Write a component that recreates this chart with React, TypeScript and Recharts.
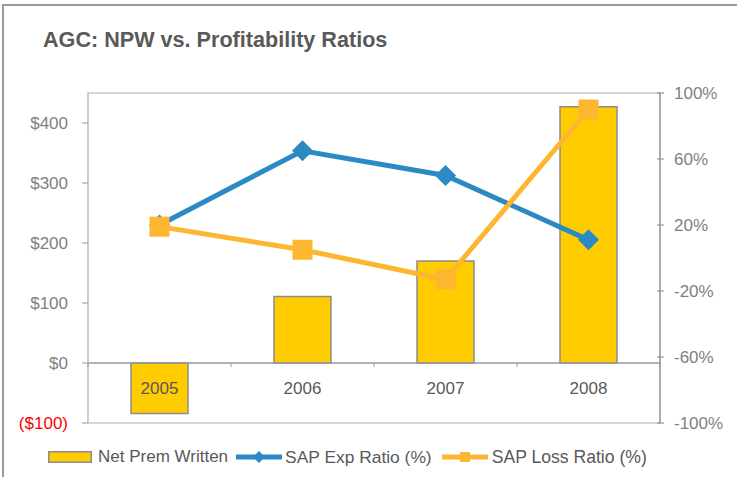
import React from 'react';
import {
  ComposedChart,
  Bar,
  Line,
  XAxis,
  YAxis,
  ReferenceLine,
  ReferenceArea,
  Legend,
} from 'recharts';

// ---- data ----
const years = ['2005', '2006', '2007', '2008'];
const netPremWritten = [-84, 111, 170, 427];
const sapExpRatio = [20, 65, 50, 11];
const sapLossRatio = [19, 5, -13, 90];
const leftTicks = [-100, 0, 100, 200, 300, 400];
const rightTicks = [-100, -60, -20, 20, 60, 100];

const data = years.map((y, i) => ({
  year: y,
  npw: netPremWritten[i],
  exp: sapExpRatio[i],
  loss: sapLossRatio[i],
}));

// ---- layout ----
const W = 737;
const H = 477;
const PLOT_LEFT = 88;
const PLOT_RIGHT = 660;
const PLOT_TOP = 93;
const PLOT_BOTTOM = 423;
const LEFT_DOMAIN: [number, number] = [-100, 450];
const RIGHT_DOMAIN: [number, number] = [-100, 100];
const ZERO_Y =
  PLOT_TOP +
  ((PLOT_BOTTOM - PLOT_TOP) * (LEFT_DOMAIN[1] - 0)) / (LEFT_DOMAIN[1] - LEFT_DOMAIN[0]);
const BAND = (PLOT_RIGHT - PLOT_LEFT) / years.length;
const YAXIS_W = 70;
const XAXIS_H = 30;

const FONT = '"Liberation Sans", Arial, sans-serif';
const BAR_FILL = '#FFCC00';
const BAR_STROKE = '#8c8c8c';
const BLUE = '#2B8AC3';
const ORANGE = '#FDB62F';
const TICK_COLOR = '#7f7f7f';
const DARK_TEXT = '#595959';

const XTick = (props: any) => {
  const { x, payload, index } = props;
  const left = x - BAND / 2;
  const right = x + BAND / 2;
  return (
    <g>
      <line x1={left} x2={left} y1={ZERO_Y} y2={ZERO_Y + 4} stroke="#999" strokeWidth={1} />
      {index === years.length - 1 && (
        <line x1={right} x2={right} y1={ZERO_Y} y2={ZERO_Y + 4} stroke="#999" strokeWidth={1} />
      )}
      <text
        x={x}
        y={ZERO_Y + 25}
        textAnchor="middle"
        dominantBaseline="central"
        fontFamily={FONT}
        fontSize={17}
        fill={DARK_TEXT}
      >
        {payload.value}
      </text>
    </g>
  );
};

const LeftTick = (props: any) => {
  const { x, y, payload } = props;
  const v = payload.value as number;
  const label = v < 0 ? `($${-v})` : `$${v}`;
  return (
    <text
      x={x}
      y={y}
      textAnchor="end"
      dominantBaseline="central"
      fontFamily={FONT}
      fontSize={17}
      fill={v < 0 ? '#FF0000' : TICK_COLOR}
    >
      {label}
    </text>
  );
};

const RightTick = (props: any) => {
  const { x, y, payload } = props;
  return (
    <g>
      <line x1={x - 17} x2={x - 10} y1={y} y2={y} stroke="#868686" strokeWidth={1} />
      <text
        x={x}
        y={y}
        textAnchor="start"
        dominantBaseline="central"
        fontFamily={FONT}
        fontSize={17}
        fill={TICK_COLOR}
      >
        {`${payload.value}%`}
      </text>
    </g>
  );
};

const DiamondDot = (props: any) => {
  const { cx, cy } = props;
  if (cx == null || cy == null) return null;
  const r = 10.5;
  return (
    <path
      d={`M${cx},${cy - r} L${cx + r},${cy} L${cx},${cy + r} L${cx - r},${cy} Z`}
      fill={BLUE}
    />
  );
};

const SquareDot = (props: any) => {
  const { cx, cy } = props;
  if (cx == null || cy == null) return null;
  const s = 20;
  return <rect x={cx - s / 2} y={cy - s / 2} width={s} height={s} fill={ORANGE} />;
};

const LegendContent = () => {
  const textStyle: React.CSSProperties = {
    fontFamily: FONT,
    fontSize: 17,
    color: DARK_TEXT,
    whiteSpace: 'nowrap',
    lineHeight: '20px',
  };
  return (
    <div style={{ display: 'flex', alignItems: 'center' }}>
      <svg width={44} height={12} style={{ display: 'block' }}>
        <rect x={0.75} y={0.75} width={42.5} height={10.5} fill={BAR_FILL} stroke={BAR_STROKE} strokeWidth={1.5} />
      </svg>
      <span style={{ ...textStyle, marginLeft: 6 }}>Net Prem Written</span>
      <svg width={46} height={14} style={{ display: 'block', marginLeft: 8 }}>
        <line x1={0} x2={46} y1={7} y2={7} stroke={BLUE} strokeWidth={5} />
        <path d="M23,1 L29,7 L23,13 L17,7 Z" fill={BLUE} />
      </svg>
      <span style={{ ...textStyle, fontSize: 17.4, marginLeft: 3 }}>SAP Exp Ratio (%)</span>
      <svg width={46} height={14} style={{ display: 'block', marginLeft: 10 }}>
        <line x1={0} x2={46} y1={7} y2={7} stroke={ORANGE} strokeWidth={5} />
        <rect x={18} y={2} width={10} height={10} fill={ORANGE} />
      </svg>
      <span style={{ ...textStyle, fontSize: 17.6, marginLeft: 4 }}>SAP Loss Ratio (%)</span>
    </div>
  );
};

export default function App() {
  return (
    <div
      style={{
        position: 'absolute',
        left: 0,
        top: 0,
        width: W,
        height: H,
        background: '#fff',
        overflow: 'hidden',
      }}
    >
      <div
        style={{
          position: 'absolute',
          left: 2,
          top: 4,
          width: W,
          height: H,
          borderTop: '2px solid #9a9a9a',
          borderLeft: '2px solid #9a9a9a',
          boxSizing: 'border-box',
        }}
      />
      <div
        style={{
          position: 'absolute',
          left: 43,
          top: 29,
          fontFamily: FONT,
          fontWeight: 'bold',
          fontSize: 21.6,
          lineHeight: '21px',
          color: DARK_TEXT,
          whiteSpace: 'nowrap',
        }}
      >
        AGC: NPW vs. Profitability Ratios
      </div>
      <div style={{ position: 'absolute', left: 0, top: 0 }}>
        <ComposedChart
          width={W}
          height={H}
          data={data}
          margin={{
            top: PLOT_TOP,
            right: W - PLOT_RIGHT - YAXIS_W,
            bottom: H - PLOT_BOTTOM - XAXIS_H,
            left: PLOT_LEFT - YAXIS_W,
          }}
        >
          <XAxis
            dataKey="year"
            height={XAXIS_H}
            axisLine={false}
            tickLine={false}
            tick={<XTick />}
            interval={0}
          />
          <YAxis
            yAxisId="left"
            orientation="left"
            width={YAXIS_W}
            domain={LEFT_DOMAIN}
            ticks={leftTicks}
            interval={0}
            axisLine={{ stroke: '#c8c8c8' }}
            tickLine={{ stroke: '#999' }}
            tickSize={6}
            tickMargin={14}
            tick={<LeftTick />}
          />
          <YAxis
            yAxisId="right"
            orientation="right"
            width={YAXIS_W}
            domain={RIGHT_DOMAIN}
            ticks={rightTicks}
            interval={0}
            axisLine={{ stroke: '#868686' }}
            tickLine={false}
            tickSize={0}
            tickMargin={14}
            tick={<RightTick />}
          />
          <ReferenceArea
            yAxisId="left"
            y1={LEFT_DOMAIN[0]}
            y2={LEFT_DOMAIN[1]}
            fill="none"
            fillOpacity={0}
            stroke="#c8c8c8"
            strokeWidth={1.5}
          />
          <Bar
            yAxisId="left"
            dataKey="npw"
            name="Net Prem Written"
            barSize={57}
            fill={BAR_FILL}
            stroke={BAR_STROKE}
            strokeWidth={1.5}
            isAnimationActive={false}
          />
          <ReferenceLine yAxisId="left" y={0} stroke="#9a9a9a" strokeWidth={1.5} />
          <Line
            yAxisId="right"
            dataKey="exp"
            name="SAP Exp Ratio (%)"
            stroke={BLUE}
            strokeWidth={5}
            dot={<DiamondDot />}
            activeDot={false}
            isAnimationActive={false}
          />
          <Line
            yAxisId="right"
            dataKey="loss"
            name="SAP Loss Ratio (%)"
            stroke={ORANGE}
            strokeWidth={5}
            dot={<SquareDot />}
            activeDot={false}
            isAnimationActive={false}
          />
          <Legend
            layout="horizontal"
            verticalAlign="middle"
            align="center"
            wrapperStyle={{ left: 48, top: 447, width: 'auto', height: 'auto' }}
            content={<LegendContent />}
          />
        </ComposedChart>
      </div>
    </div>
  );
}
